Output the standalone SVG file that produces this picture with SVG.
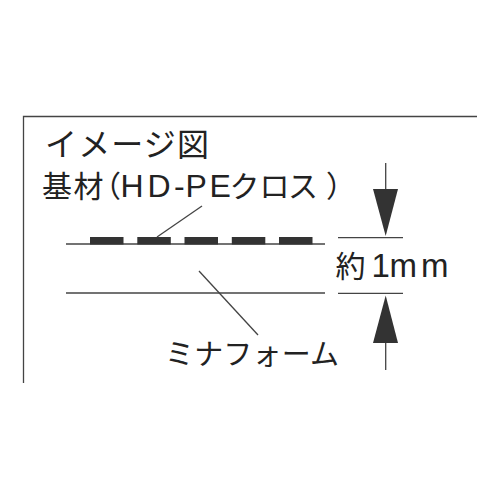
<svg xmlns="http://www.w3.org/2000/svg" width="500" height="500" viewBox="0 0 500 500">
<defs>
<style>
.t{font-family:"Noto Sans CJK JP","Noto Sans",sans-serif;fill:#222}
.lat{font-family:"Liberation Sans","Noto Sans CJK JP",sans-serif}
.ln{stroke:#444;stroke-width:1.3;fill:none}
.cloth{fill:#333}
.arrowhead{fill:#333}
</style>
</defs>
<rect width="500" height="500" fill="#fff"/>
<g id="frame">
<polyline class="ln" points="477,116.5 23.5,116.5 23.5,383" stroke-width="1.8"/>
</g>
<g id="title"><text class="t" x="45" y="156" font-size="32" textLength="164" lengthAdjust="spacing">イメージ図</text></g>
<g id="base-label"><text class="t" x="42 73.5 91" y="197" font-size="30">基材（<tspan class="lat" font-size="32" x="120.4 147.4 174 185.4 209.4">HD-PE</tspan><tspan x="229.5 259.5 288 326">クロス）</tspan></text></g>
<g id="cloth">
<line class="ln" x1="66" y1="244" x2="325" y2="244"/>
<rect class="cloth" x="90" y="237" width="33.5" height="7.5"/>
<rect class="cloth" x="137.3" y="237" width="33.5" height="7.5"/>
<rect class="cloth" x="184.5" y="237" width="33.5" height="7.5"/>
<rect class="cloth" x="231.8" y="237" width="33.5" height="7.5"/>
<rect class="cloth" x="279" y="237" width="33.5" height="7.5"/>
</g>
<g id="foam">
<line class="ln" x1="66" y1="293" x2="325" y2="293"/>
</g>
<g id="foam-label"><text class="t" x="165" y="365" font-size="29" textLength="174" lengthAdjust="spacing">ミナフォーム</text></g>
<g id="dimension">
<line class="ln" x1="338" y1="237.7" x2="403" y2="237.7"/>
<line class="ln" x1="338" y1="293.3" x2="403" y2="293.3"/>
<line class="ln" x1="385.7" y1="163" x2="385.7" y2="192" stroke-width="2.4"/>
<polygon class="arrowhead" points="373,189 398,189 385.7,236"/>
<line class="ln" x1="385.7" y1="340" x2="385.7" y2="370" stroke-width="2.4"/>
<polygon class="arrowhead" points="373,343 398,343 385.7,295.5"/>
<text class="t" x="335.5" y="277" font-size="30">約<tspan class="lat" x="371.4 389.5 421" font-size="33">1mm</tspan></text>
</g>
<g id="connectors">
<line class="ln" x1="202" y1="206" x2="157" y2="237"/>
<line class="ln" x1="199" y1="271" x2="258" y2="335"/>
</g>
</svg>
